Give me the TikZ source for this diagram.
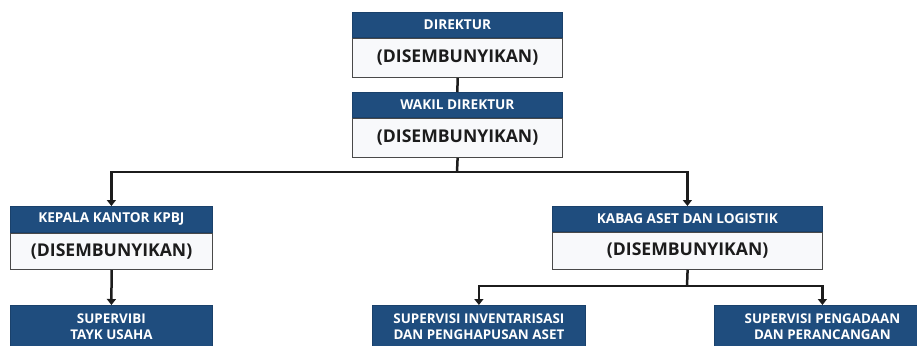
\documentclass[tikz,border=0pt]{standalone}
\usepackage{fontspec}
\setmainfont{Open Sans}
\usetikzlibrary{arrows.meta}
\definecolor{orgblue}{HTML}{1F4D7E}
\definecolor{orgink}{HTML}{1C1C1C}
\definecolor{orgpaper}{HTML}{F8F9FB}

\begin{document}
\begin{tikzpicture}[
  x=1pt,
  y=-1pt,
  every node/.style={inner sep=0pt},
  headbox/.style={fill=orgblue, draw=orgblue!85!black, line width=0.8pt,
    text=white, minimum height=25pt, anchor=north west,
    font=\fontsize{13.6}{15}\selectfont\bfseries},
  bodybox/.style={fill=orgpaper, draw=orgink!80, line width=1.2pt,
    text=orgink, minimum height=38pt, anchor=north west,
    font=\fontsize{17.6}{19}\selectfont\bfseries},
  unitbox/.style={fill=orgblue, draw=orgblue!85!black, line width=0.8pt,
    text=white, minimum height=43pt, anchor=north west, align=center,
    font=\fontsize{13.4}{16}\selectfont\bfseries},
  link/.style={draw=orgink, line width=2.5pt},
  arr/.style={link, -{Triangle[width=9pt,length=6pt]}}
]
  \clip (0,0) rectangle (917,345);
  \fill[white] (0,0) rectangle (917,345);

  % top: direktur and wakil
  \node[headbox, minimum width=210pt] (dirHead) at (352,12) {DIREKTUR};
  \node[bodybox, minimum width=210pt, minimum height=39pt] (dirBody) at (dirHead.south west) {(DISEMBUNYIKAN)};
  \node[headbox, minimum width=210pt] (wakHead) at (352,92) {WAKIL DIREKTUR};
  \node[bodybox, minimum width=210pt, minimum height=39pt] (wakBody) at (wakHead.south west) {(DISEMBUNYIKAN)};

  % middle: kepala kantor and kabag
  \node[headbox, minimum width=202pt, minimum height=26pt] (kepHead) at (10,206) {KEPALA KANTOR KPBJ};
  \node[bodybox, minimum width=202pt, minimum height=36pt] (kepBody) at (kepHead.south west) {(DISEMBUNYIKAN)};
  \node[headbox, minimum width=270pt] (kabHead) at (552,206) {KABAG ASET DAN LOGISTIK};
  \node[bodybox, minimum width=270pt, minimum height=37pt] (kabBody) at (kabHead.south west) {(DISEMBUNYIKAN)};

  % bottom: supervisi units
  \node[unitbox, minimum width=202pt] (tuBox) at (10,305) {SUPERVIBI\\TAYK USAHA};
  \node[unitbox, minimum width=213pt] (invBox) at (372,305) {SUPERVISI INVENTARISASI\\DAN PENGHAPUSAN ASET};
  \node[unitbox, minimum width=216pt] (pengBox) at (714,305) {SUPERVISI PENGADAAN\\DAN PERANCANGAN};

  % connectors
  \coordinate (busA) at (457,172);
  \coordinate (busB) at (687,286);
  \draw[link] (dirBody.south) -- (wakHead.north);
  \draw[link] (wakBody.south) -- (busA);
  \draw[arr] (busA) -| (kepHead.north);
  \draw[arr] (busA) -| (kabHead.north);
  \draw[arr] (kepBody.south) -- (tuBox.north);
  \draw[link] (kabBody.south) -- (busB);
  \draw[arr] (busB) -| (invBox.north);
  \draw[arr] (busB) -| (pengBox.north);
\end{tikzpicture}
\end{document}
